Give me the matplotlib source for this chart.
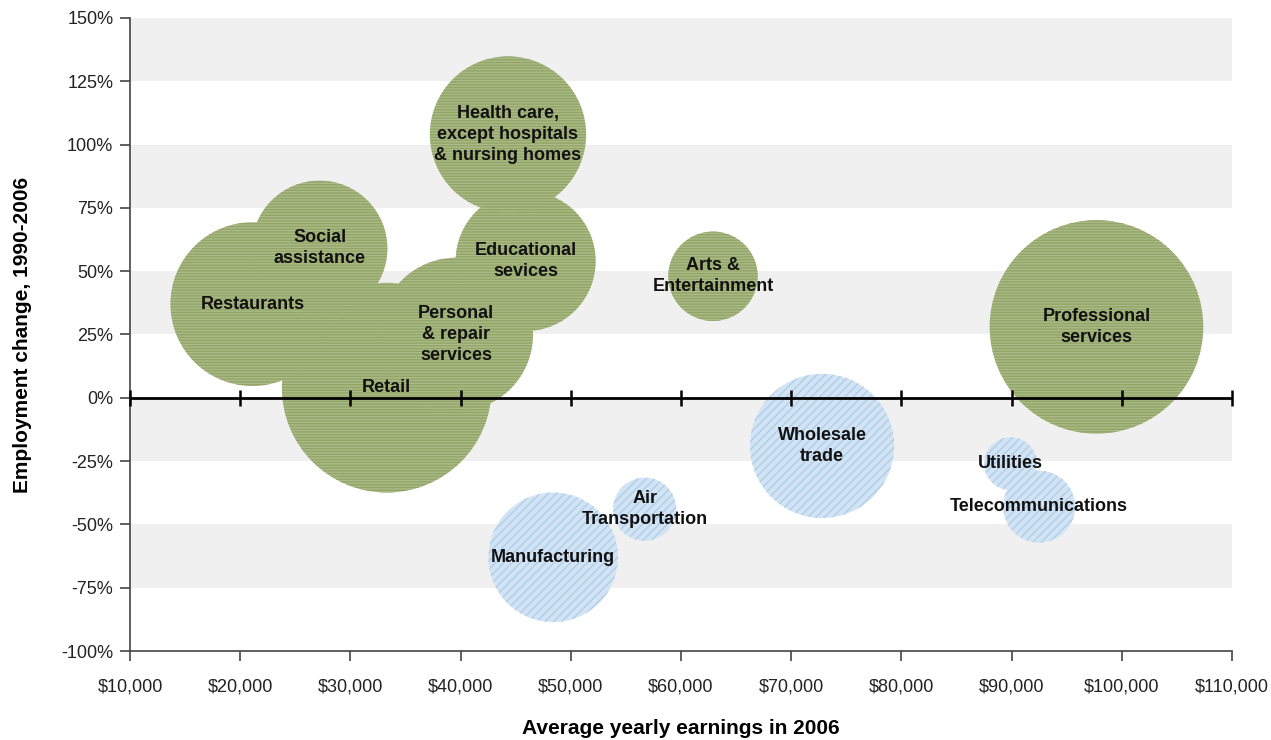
import numpy as np
import matplotlib
matplotlib.use("Agg")
from matplotlib import pyplot as plt
from matplotlib.ticker import FuncFormatter

plt.rcParams['font.family'] = ['Liberation Sans', 'DejaVu Sans']
plt.rcParams['hatch.linewidth'] = 1.0

# industries that grew (green) and shrank (blue)
grow_names = ["Retail", "Restaurants", "Social\nassistance", "Personal\n& repair\nservices",
              "Educational\nsevices", "Health care,\nexcept hospitals\n& nursing homes",
              "Arts &\nEntertainment", "Professional\nservices"]
grow_earn = [33300, 21100, 27200, 39600, 45900, 44300, 62900, 97700]
grow_change = [4, 37, 59, 25, 54, 104, 48, 28]
grow_jobs = [11.0, 6.7, 4.6, 5.9, 4.9, 6.1, 2.0, 11.4]

shrink_names = ["Wholesale\ntrade", "Utilities", "Telecommunications", "Manufacturing", "Air\nTransportation"]
shrink_earn = [72800, 89900, 92500, 48400, 56700]
shrink_change = [-19, -26, -43, -63, -44]
shrink_jobs = [5.2, 0.7, 1.3, 4.2, 1.0]

x_ticks = np.arange(10000, 110001, 10000)
y_ticks = np.arange(-100, 151, 25)

SIZE_SCALE = 2073.6

fig = plt.figure(figsize=(12.71, 7.40), dpi=100)
ax = fig.add_axes([130/1271, 1 - 651/740, 1102/1271, 633/740])

# grey bands
for lo in [125, 75, 25, -25, -75]:
    ax.axhspan(lo, lo + 25, color='#f0f0f0', lw=0, zorder=0)

ax.scatter(grow_earn, grow_change, s=np.array(grow_jobs) * SIZE_SCALE,
           facecolors='#abbb88', edgecolors='#93a467', linewidths=0,
           hatch='------', zorder=2)
ax.scatter(shrink_earn, shrink_change, s=np.array(shrink_jobs) * SIZE_SCALE,
           facecolors='#d2e4f4', edgecolors='#b0cde9', linewidths=0,
           hatch='////', zorder=2)

for n, x, y in zip(grow_names + shrink_names, grow_earn + shrink_earn, grow_change + shrink_change):
    ax.text(x, y, n, ha='center', va='center', fontsize=13, fontweight='bold',
            linespacing=1.3, color='#111111', zorder=5)

# zero line with crossing ticks
ax.axhline(0, color='black', lw=2, zorder=4)
ax.plot(x_ticks, np.zeros(len(x_ticks)), ls='none', marker='|', ms=12, mew=1.8,
        color='black', zorder=4, clip_on=False)

ax.set_xlim(10000, 110000)
ax.set_ylim(-100, 150)
ax.set_xticks(x_ticks)
ax.set_yticks(y_ticks)
ax.xaxis.set_major_formatter(FuncFormatter(lambda v, p: "${:,.0f}".format(v)))
ax.yaxis.set_major_formatter(FuncFormatter(lambda v, p: "{:.0f}%".format(v)))
ax.tick_params(axis='both', labelsize=13, colors='#444444', labelcolor='#222222',
               length=7, width=1.2, pad=5)
ax.tick_params(axis='x', pad=13)

for s in ['top', 'right']:
    ax.spines[s].set_visible(False)
for s in ['left', 'bottom']:
    ax.spines[s].set_color('#444444')
    ax.spines[s].set_linewidth(1.2)

ax.set_xlabel("Average yearly earnings in 2006", fontsize=15, fontweight='bold', labelpad=17)
ax.set_ylabel("Employment change, 1990-2006", fontsize=15, fontweight='bold', labelpad=21)

fig.savefig("out.png", dpi=100)
